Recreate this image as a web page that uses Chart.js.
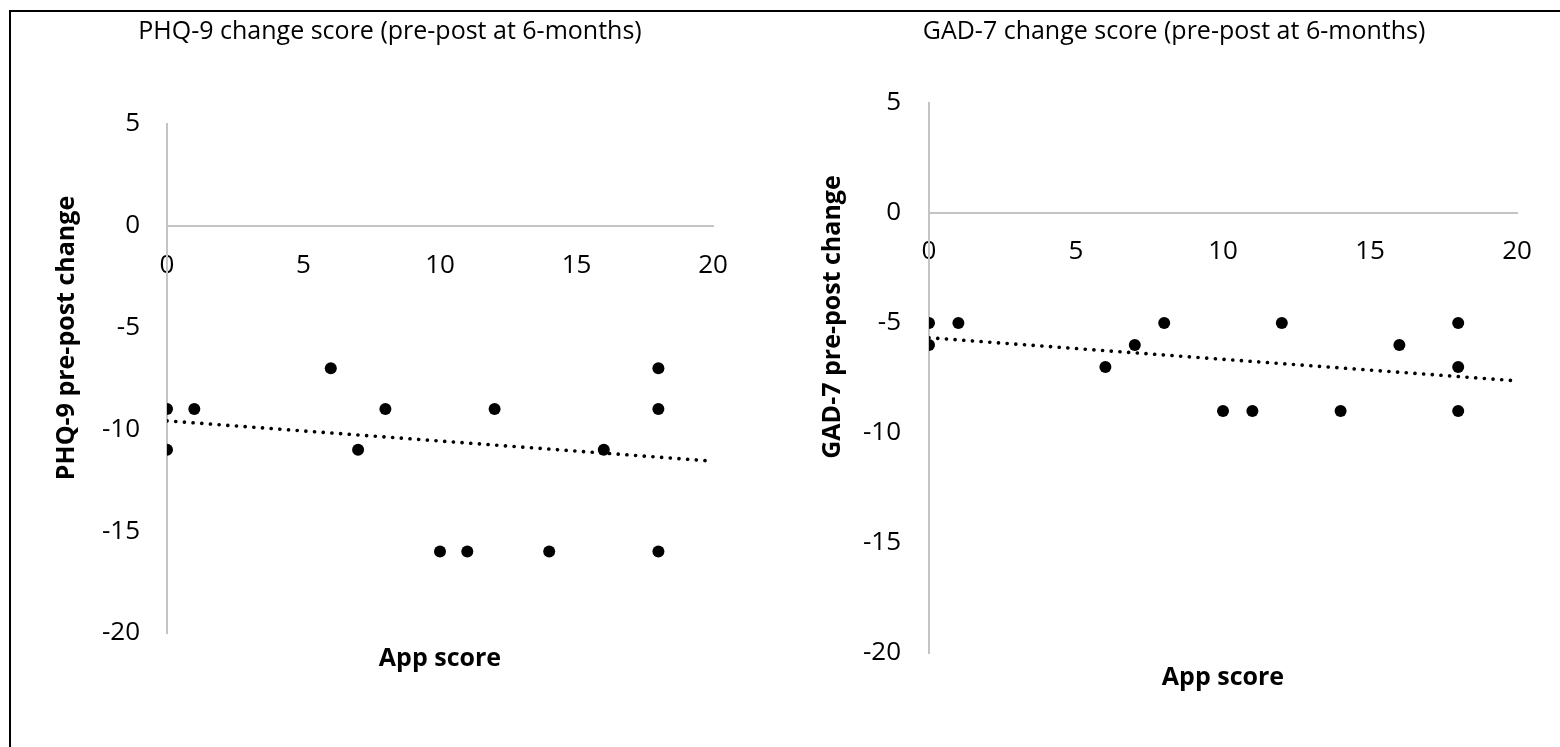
<!DOCTYPE html>
<html>
<head>
<meta charset="utf-8">
<title>PHQ-9 and GAD-7 change scores</title>
<script src="https://cdn.jsdelivr.net/npm/chart.js@4.4.1/dist/chart.umd.min.js"></script>
<style>
  html, body { margin: 0; padding: 0; background: #fff; }
  #page { position: relative; width: 1560px; height: 747px; overflow: hidden; }
  #frame { position: absolute; left: 9px; top: 10px; right: -20px; bottom: -20px; border: 2px solid #000; }
  canvas { position: absolute; top: 0; }
</style>
</head>
<body>
<div id="page">
  <div id="frame"></div>
  <canvas id="phq-chart" width="780" height="747" style="left:0"></canvas>
  <canvas id="gad-chart" width="780" height="747" style="left:780px"></canvas>
</div>
<script>
// values
const appScores = [0, 0, 1, 6, 7, 8, 10, 11, 12, 14, 16, 18, 18, 18];
const phqChange = [-9, -11, -9, -7, -11, -9, -16, -16, -9, -16, -11, -7, -9, -16];
const gadChange = [-5, -6, -5, -7, -6, -5, -9, -9, -5, -9, -6, -5, -7, -9];

// linear trendline ends (x = 0 and x = 20)
const trendX = [0, 20];
const phqTrend = [-9.58, -11.56];
const gadTrend = [-5.67, -7.63];

const xTicks = [0, 5, 10, 15, 20];
const yTicks = [5, 0, -5, -10, -15, -20];

const FONT = "'Open Sans', 'Noto Sans', sans-serif";
const AXIS_GREY = "#c4c4c4";

// draws the rotated y title where Excel put it (not centred on the plot)
const yTitlePlugin = {
    id: "yTitle",
    afterDraw(chart, args, opts) {
        if (!opts || !opts.text) return;
        const ctx = chart.ctx;
        ctx.save();
        ctx.translate(opts.x, opts.y);
        ctx.rotate(-Math.PI / 2);
        ctx.font = "bold 25px " + FONT;
        ctx.fillStyle = "#000";
        ctx.textAlign = "center";
        ctx.textBaseline = "middle";
        ctx.fillText(opts.text, 0, 0);
        ctx.restore();
    },
};

function toPoints(xs, ys) {
    return xs.map((x, i) => ({ x: x, y: ys[i] }));
}

function makeChart(canvasId, cfg) {
    return new Chart(document.getElementById(canvasId), {
        type: "scatter",
        data: {
            datasets: [
                {
                    label: "scores",
                    data: toPoints(appScores, cfg.values),
                    backgroundColor: "#000",
                    borderWidth: 0,
                    pointRadius: 6,
                    pointHoverRadius: 6,
                },
                {
                    type: "line",
                    label: "trend",
                    data: toPoints(trendX, cfg.trend),
                    borderColor: "#000",
                    borderWidth: 3.6,
                    borderDash: [0.1, 8.6],
                    borderCapStyle: "round",
                    pointRadius: 0,
                    fill: false,
                },
            ],
        },
        options: {
            responsive: false,
            animation: false,
            devicePixelRatio: 1,
            layout: { padding: cfg.padding },
            plugins: {
                legend: { display: false },
                tooltip: { enabled: false },
                title: {
                    display: true,
                    text: cfg.title,
                    color: "#000",
                    font: { family: FONT, size: 25, weight: "normal", lineHeight: 1.2 },
                    padding: cfg.titlePadding,
                },
                yTitle: cfg.yTitle,
            },
            scales: {
                x: {
                    type: "linear",
                    position: { y: 0 },
                    min: 0,
                    max: 20,
                    afterBuildTicks: (scale) => {
                        scale.ticks = xTicks.map((v) => ({ value: v }));
                    },
                    afterFit: (scale) => {
                        scale.height = cfg.xHeight;
                    },
                    grid: { display: false, drawTicks: false },
                    border: { display: true, color: AXIS_GREY, width: 2 },
                    ticks: {
                        color: "#000",
                        padding: cfg.xTickPad,
                        maxRotation: 0,
                        font: { family: FONT, size: 26, lineHeight: 1.2 },
                    },
                    title: {
                        display: true,
                        text: "App score",
                        color: "#000",
                        padding: 0,
                        font: { family: FONT, size: 25, weight: "bold", lineHeight: 1.2 },
                    },
                },
                y: {
                    type: "linear",
                    position: "left",
                    min: -20,
                    max: 5,
                    afterBuildTicks: (scale) => {
                        scale.ticks = yTicks.map((v) => ({ value: v }));
                    },
                    afterFit: (scale) => {
                        scale.width = cfg.yWidth;
                    },
                    grid: { display: false, drawTicks: false },
                    border: { display: true, color: AXIS_GREY, width: 2 },
                    ticks: {
                        color: "#000",
                        padding: cfg.yTickPad,
                        font: { family: FONT, size: 26, lineHeight: 1.2 },
                    },
                },
            },
        },
        plugins: [yTitlePlugin],
    });
}

makeChart("phq-chart", {
    values: phqChange,
    trend: phqTrend,
    title: "PHQ-9 change score (pre-post at 6-months)",
    yTitle: { text: "PHQ-9 pre-post change", x: 67, y: 338 },
    padding: { left: 67, right: 67, top: 0, bottom: 114 },
    titlePadding: { top: 17, bottom: 77 },
    yWidth: 100,
    yTickPad: 27,
    xTickPad: 24,
    xHeight: 448,
});

makeChart("gad-chart", {
    values: gadChange,
    trend: gadTrend,
    title: "GAD-7 change score (pre-post at 6-months)",
    yTitle: { text: "GAD-7 pre-post change", x: 53, y: 317 },
    padding: { left: 51, right: 43, top: 0, bottom: 94 },
    titlePadding: { top: 17, bottom: 56 },
    yWidth: 98,
    yTickPad: 28,
    xTickPad: 23,
    xHeight: 480,
});
</script>
</body>
</html>
